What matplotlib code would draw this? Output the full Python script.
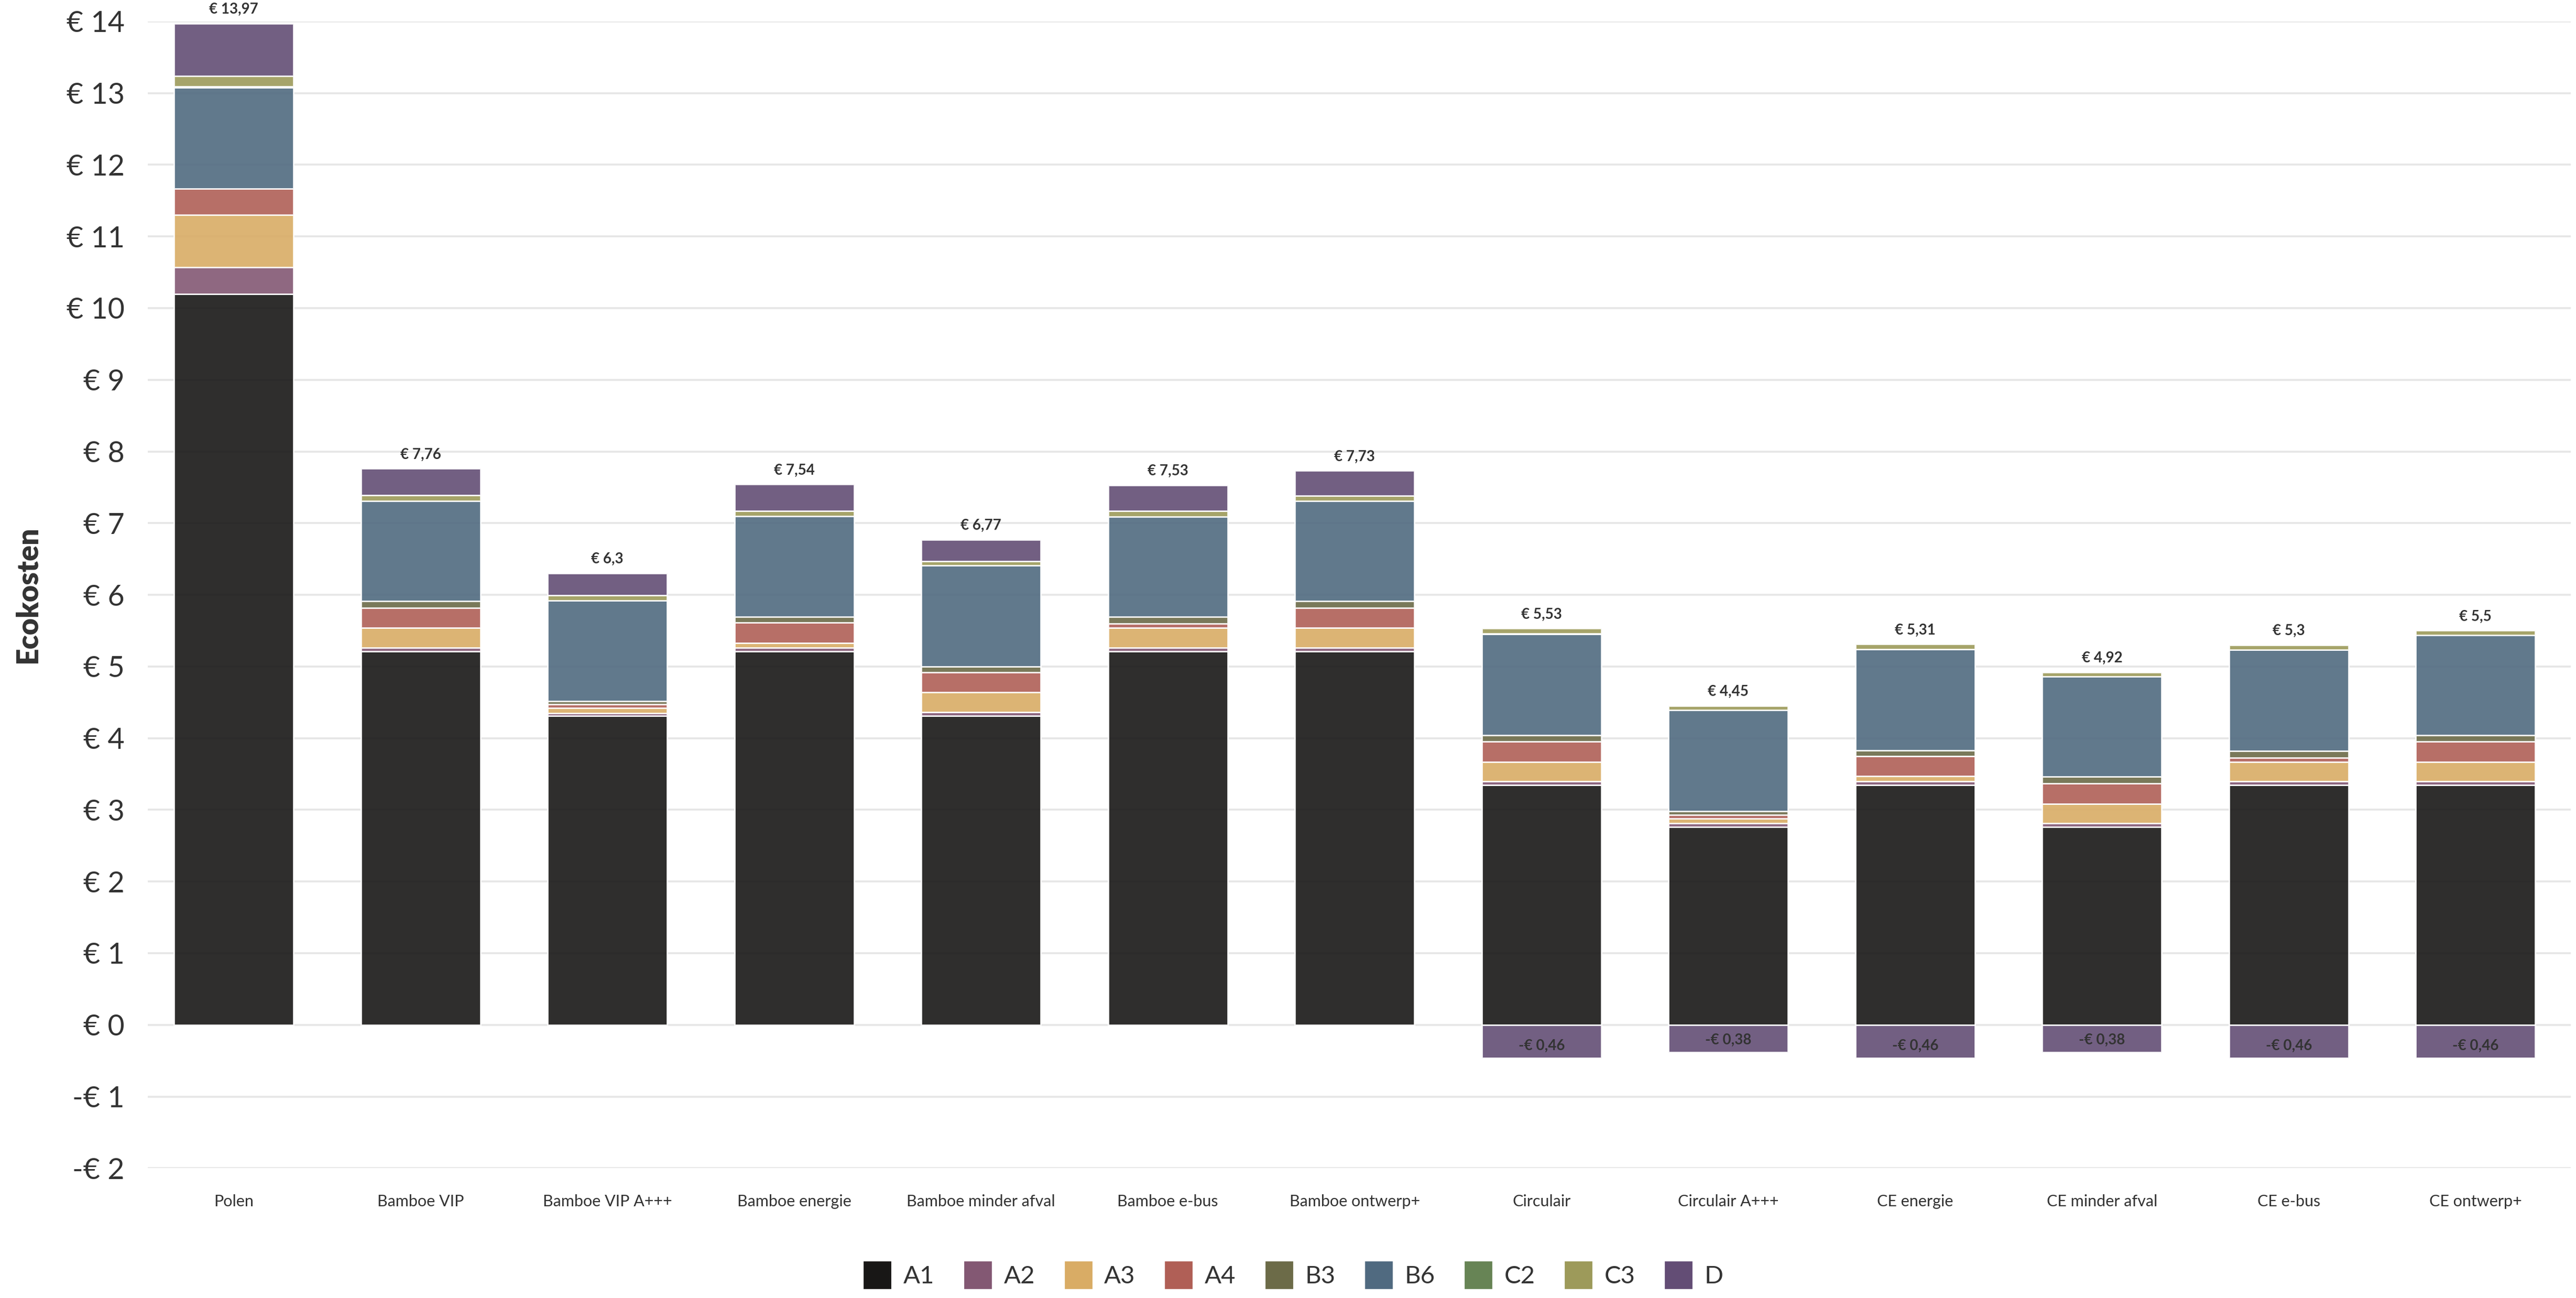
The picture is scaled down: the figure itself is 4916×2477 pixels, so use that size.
import numpy as np
import matplotlib.pyplot as plt
from matplotlib.lines import Line2D

plt.rcParams['font.family'] = ['Lato', 'DejaVu Sans']

# categories and life-cycle stage values (ecokosten in euro)
scenarios = ['Polen', 'Bamboe VIP', 'Bamboe VIP A+++', 'Bamboe energie', 'Bamboe minder afval',
             'Bamboe e-bus', 'Bamboe ontwerp+', 'Circulair', 'Circulair A+++', 'CE energie',
             'CE minder afval', 'CE e-bus', 'CE ontwerp+']

A1 = [10.20, 5.21, 4.31, 5.21, 4.31, 5.21, 5.21, 3.35, 2.76, 3.35, 2.76, 3.35, 3.35]
A2 = [0.37, 0.05, 0.04, 0.05, 0.05, 0.05, 0.05, 0.05, 0.05, 0.05, 0.05, 0.05, 0.05]
A3 = [0.73, 0.28, 0.07, 0.07, 0.28, 0.28, 0.28, 0.27, 0.07, 0.07, 0.27, 0.27, 0.27]
A4 = [0.37, 0.28, 0.05, 0.28, 0.28, 0.06, 0.28, 0.28, 0.05, 0.28, 0.29, 0.06, 0.28]
B3 = [0.00, 0.09, 0.05, 0.08, 0.08, 0.09, 0.09, 0.09, 0.05, 0.08, 0.09, 0.09, 0.09]
B6 = [1.41, 1.40, 1.40, 1.41, 1.41, 1.40, 1.40, 1.41, 1.41, 1.41, 1.40, 1.41, 1.40]
C2 = [0.01, 0.00, 0.00, 0.00, 0.00, 0.00, 0.00, 0.01, 0.00, 0.00, 0.00, 0.00, 0.00]
C3 = [0.15, 0.08, 0.07, 0.07, 0.06, 0.08, 0.07, 0.07, 0.06, 0.07, 0.06, 0.07, 0.06]
D = [0.73, 0.37, 0.31, 0.37, 0.30, 0.36, 0.35, -0.46, -0.38, -0.46, -0.38, -0.46, -0.46]

stage_names = ['A1', 'A2', 'A3', 'A4', 'B3', 'B6', 'C2', 'C3', 'D']
stage_data = [A1, A2, A3, A4, B3, B6, C2, C3, D]
colors = ['#181716', '#835873', '#d9ac65', '#b05f56', '#6c6b48', '#506a80', '#678455', '#9d9a5a', '#634d75']

fig, ax = plt.subplots(figsize=(24.58, 12.385), dpi=200)
fig.subplots_adjust(left=0.0574, right=0.998, top=0.9835, bottom=0.1)

x = np.arange(len(scenarios))
width = 0.64
pos_bottom = np.zeros(len(scenarios))
neg_bottom = np.zeros(len(scenarios))

for name, vals, col in zip(stage_names, stage_data, colors):
    vals = np.array(vals)
    for i, v in enumerate(vals):
        if v == 0:
            continue
        if v > 0:
            ax.bar(x[i], v, width, bottom=pos_bottom[i], color=col, alpha=0.9,
                   edgecolor='white', linewidth=1.0, zorder=3)
            pos_bottom[i] += v
        else:
            ax.bar(x[i], v, width, bottom=neg_bottom[i], color=col, alpha=0.9,
                   edgecolor='white', linewidth=1.0, zorder=3)
            neg_bottom[i] += v


def euro(v):
    s = f"{abs(v):.2f}".rstrip('0').rstrip('.').replace('.', ',')
    return ('-€ ' if v < 0 else '€ ') + s


# totals above, negative parts inside the bar
for i in range(len(scenarios)):
    ax.annotate(euro(round(pos_bottom[i], 2)), (x[i], pos_bottom[i]), xytext=(0, 5),
                textcoords='offset points', ha='center', va='bottom',
                fontsize=10, fontweight='bold', color='#333333', zorder=5)
    if neg_bottom[i] < 0:
        ax.text(x[i], neg_bottom[i] + 0.07, euro(round(neg_bottom[i], 2)), ha='center',
                va='bottom', fontsize=10, fontweight='bold', color='#333333', zorder=5)

ax.set_ylim(-2, 14)
ax.set_xlim(-0.46, 12.51)
ax.set_yticks(range(-2, 15))
ax.set_yticklabels([euro(t) for t in range(-2, 15)], fontsize=20, color='#333333')
ax.set_xticks(x)
ax.set_xticklabels(scenarios, fontsize=11, color='#333333')
ax.tick_params(axis='both', length=0)
ax.tick_params(axis='y', pad=16)
ax.tick_params(axis='x', pad=18)
ax.grid(axis='y', color='#e6e6e6', linewidth=1.3, zorder=0)
for s in ax.spines.values():
    s.set_visible(False)

ax.set_ylabel('Ecokosten', fontsize=20, fontweight='heavy', color='#333333')
ax.yaxis.set_label_coords(-0.044, 0.5)

handles = [Line2D([], [], marker='s', linestyle='none', markersize=18, color=c) for c in colors]
fig.legend(handles, stage_names, loc='center', bbox_to_anchor=(0.5, 0.0165), ncol=9,
           frameon=False, fontsize=17, handletextpad=0.05, columnspacing=0.75,
           labelcolor='#333333')

plt.savefig('out.png')
